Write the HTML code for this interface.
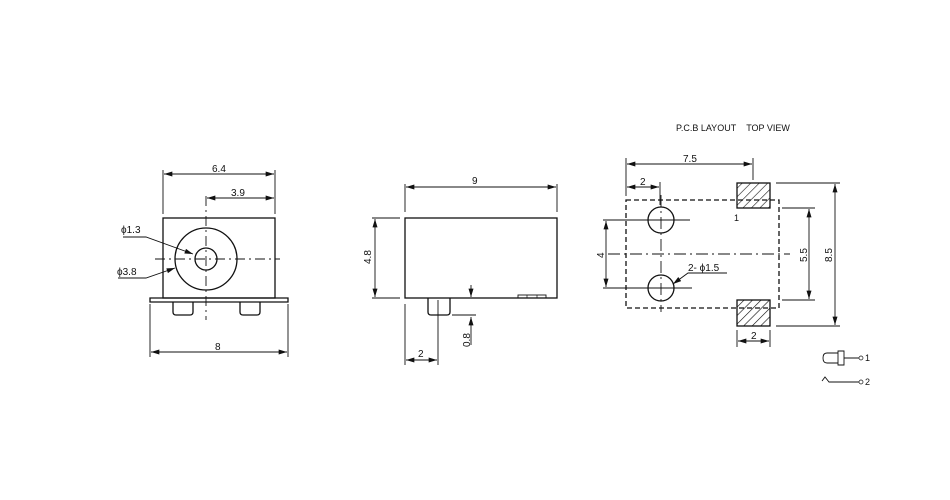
<!DOCTYPE html>
<html><head><style>body{margin:0;background:#fff}svg{display:block}text{font-family:"Liberation Sans",sans-serif;font-size:10px;fill:#111}</style></head><body>
<svg width="950" height="500" viewBox="0 0 950 500" xmlns="http://www.w3.org/2000/svg">
<defs>
<marker id="a" viewBox="0 0 10 6" refX="10" refY="3" markerWidth="10" markerHeight="5" markerUnits="userSpaceOnUse" orient="auto"><path d="M0,0L10,3L0,6z" fill="#111"/></marker>
<marker id="b" viewBox="0 0 10 6" refX="0" refY="3" markerWidth="10" markerHeight="5" markerUnits="userSpaceOnUse" orient="auto"><path d="M10,0L0,3L10,6z" fill="#111"/></marker>
<pattern id="h" width="6" height="6" patternUnits="userSpaceOnUse" patternTransform="rotate(45)"><line x1="0" y1="0" x2="0" y2="6" stroke="#111" stroke-width="1.2"/></pattern>
</defs>
<g stroke="#111" fill="none" stroke-width="1.3">
<rect x="163" y="218" width="112" height="80"/>
<path d="M150,302 L150,298 L288,298 L288,302 Z"/>
<path d="M173,302 v10 q0,3 3,3 h14 q3,0 3,-3 v-10 M240,302 v10 q0,3 3,3 h14 q3,0 3,-3 v-10"/>
<circle cx="206" cy="259" r="31"/>
<circle cx="206" cy="259" r="11"/>
</g>
<g stroke="#111" fill="none" stroke-width="0.9">
<path d="M206,196 V320 M155,259 H280" stroke-dasharray="10,4,2,4"/>
<path d="M163,170 V214 M275,170 V214 M150,304 V357 M288,304 V357"/>
<g marker-start="url(#b)" marker-end="url(#a)">
<path d="M164,174 H274"/><path d="M207,198 H274"/><path d="M151,352 H287"/>
<path d="M406,187 H556"/><path d="M375,219 V297"/><path d="M406,360 H437"/>
<path d="M627,164 H752"/><path d="M627,187 H659"/><path d="M606,221 V287"/><path d="M809,209 V299"/><path d="M835,184 V325"/><path d="M738,341 H769"/>
</g>
<path d="M123,237 H146 L193,254" marker-end="url(#a)"/>
<path d="M118,278 H146 L175,268" marker-end="url(#a)"/>
<path d="M405,184 V212 M557,184 V212 M372,218 H400 M372,298 H400 M405,304 V365 M438,300 V365 M452,315 H476"/>
<path d="M471,285 V297" marker-end="url(#a)"/>
<path d="M471,345 V317" marker-end="url(#a)"/>
</g>
<g stroke="#111" fill="none" stroke-width="1.3">
<rect x="405" y="218" width="152" height="80"/>
<path d="M428,298 v14 q0,3 3,3 h16 q3,0 3,-3 v-14"/>
<rect x="518" y="295" width="28" height="3" stroke-width="0.9"/>
<path d="M527,295v3M537,295v3" stroke-width="0.7"/>
<rect x="626" y="200" width="153" height="108" stroke-dasharray="5,3"/>
<circle cx="661" cy="220" r="13"/>
<circle cx="661" cy="288" r="13"/>
<rect x="737" y="183" width="33" height="25" fill="url(#h)"/>
<rect x="737" y="300" width="33" height="26" fill="url(#h)"/>
</g>
<g stroke="#111" fill="none" stroke-width="0.9">
<path d="M661,195 V312 M608,254 H790" stroke-dasharray="12,4,2,4"/>
<path d="M640,220 H690 M640,288 H692 M603,220 H650 M603,288 H650"/>
<path d="M626,158 V196 M753,158 V180 M660,182 V205 M776,183 H840 M782,208 H815 M782,300 H815 M776,326 H840 M737,330 V347 M770,330 V347"/>
<path d="M727,273 H688 L673,284" marker-end="url(#a)"/>
<path d="M838,353 H827 q-4,0 -4,5 q0,5 4,5 H838 M838,351 h6 v14 h-6 z M844,358 H859"/>
<path d="M822,381 l3,-4 l4,5 H859"/>
</g>
<circle cx="861" cy="358" r="2" fill="none" stroke="#111" stroke-width="0.7"/>
<circle cx="861" cy="382" r="2" fill="none" stroke="#111" stroke-width="0.7"/>
<text x="212" y="172">6.4</text>
<text x="231" y="196">3.9</text>
<text x="121" y="233">ϕ1.3</text>
<text x="117" y="275">ϕ3.8</text>
<text x="215" y="350">8</text>
<text x="472" y="184">9</text>
<text x="418" y="357">2</text>
<text transform="translate(371,264) rotate(-90)">4.8</text>
<text transform="translate(470,347) rotate(-90)">0.8</text>
<text x="676" y="131" style="font-size:9px">P.C.B LAYOUT&#160;&#160;&#160;&#160;TOP VIEW</text>
<text x="683" y="162">7.5</text>
<text x="640" y="185">2</text>
<text x="734" y="221" style="font-size:9px">1</text>
<text x="688" y="271">2- ϕ1.5</text>
<text transform="translate(604,258) rotate(-90)">4</text>
<text transform="translate(807,262) rotate(-90)">5.5</text>
<text transform="translate(832,262) rotate(-90)">8.5</text>
<text x="751" y="339">2</text>
<text x="865" y="361" style="font-size:9px">1</text>
<text x="865" y="385" style="font-size:9px">2</text>
</svg>
</body></html>
